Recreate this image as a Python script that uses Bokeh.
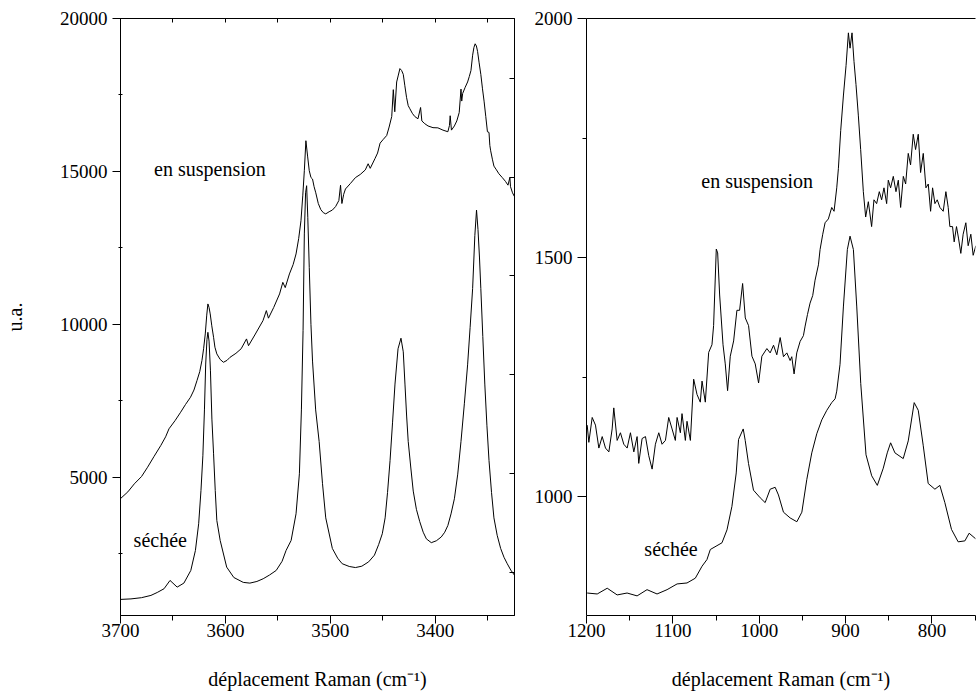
from bokeh.plotting import figure
from bokeh.models import Range1d, FixedTicker, LinearAxis, Label
from bokeh.layouts import row
from bokeh.embed import file_html
from bokeh.resources import INLINE

FONT = "'Liberation Serif', 'Times New Roman', Times, serif"

# ---------------- Left panel : O-H stretching region ----------------
oh_sechee_x = [3700, 3690, 3680, 3671, 3665, 3658.5, 3652.8, 3646, 3639.6, 3633, 3628.6, 3625.5,
               3623.3, 3621.5, 3620, 3618.8, 3617.6, 3616.7, 3615.6, 3614.3, 3612.9, 3611.3, 3609.7,
               3608.2, 3605, 3598.8, 3592, 3583, 3576.7, 3570, 3564, 3558, 3551.6, 3546, 3542.2,
               3537.4, 3532.7, 3529.5, 3527.6, 3526, 3524.8, 3523.6, 3522.6, 3521.5, 3520.1, 3518.5,
               3517, 3514, 3510.7, 3507.5, 3504.4, 3498.1, 3493, 3488.7, 3482, 3476.1, 3470, 3463.5,
               3458, 3454, 3450.5, 3447.8, 3445.5, 3443.1, 3440.7, 3438.4, 3435.5, 3432.7, 3430.5,
               3428.9, 3427.3, 3425.8, 3423.3, 3421, 3418, 3414.8, 3411.5, 3408.5, 3403.8, 3399,
               3394.3, 3391, 3388, 3385, 3381.8, 3378.6, 3375.5, 3372.3, 3369.2, 3366.8, 3364.4,
               3362.3, 3360.7, 3359.3, 3357.9, 3356.6, 3354.7, 3352.8, 3350.8, 3348.8, 3346.4, 3344.1,
               3341, 3337.7, 3334.5, 3331.4, 3328, 3324.5]
oh_sechee_y = [1003, 1020, 1060, 1134, 1230, 1352, 1624, 1405, 1536, 1950, 2604, 3477,
               4565, 5700, 7200, 8700, 9500, 9738, 9450, 8500, 6900, 5764, 4565,
               3585, 2931, 2059, 1720, 1560, 1536, 1590, 1679, 1800, 1951, 2250, 2604,
               2931, 3803, 5111, 7200, 9800, 12955, 14300, 14532, 13500, 11862, 10000,
               8797, 7200, 6170, 4800, 3670, 2670, 2350, 2170, 2080, 2045, 2090, 2232,
               2450, 2794, 3150, 3670, 4500, 5545, 6800, 8045, 9200, 9545, 9100,
               8045, 7000, 6170, 5300, 4545, 3950, 3545, 3200, 2983, 2859, 2920,
               3045, 3200, 3421, 3800, 4294, 5100, 6170, 7400, 8673, 9900, 11173,
               12900, 13735, 13100, 12200, 11173, 9600, 8045, 6700, 5545, 4500, 3670,
               3100, 2670, 2380, 2170, 1960, 1794]

oh_susp_x = [3700, 3693, 3686.8, 3680, 3674.2, 3668, 3661.6, 3657, 3653.8, 3648, 3642.7, 3638,
             3633.3, 3630, 3627.1, 3624.5, 3622.4, 3620.8, 3619.2, 3617.8, 3616.7, 3615.6, 3614.5,
             3613, 3611.3, 3610, 3608.2, 3605, 3601.9, 3598.5, 3595.6, 3590, 3585, 3579.9, 3578,
             3572, 3564.2, 3561, 3559, 3554, 3548.4, 3545.3, 3543, 3539, 3535.5, 3532.7, 3530.2,
             3528, 3526.3, 3524.8, 3523.3, 3521.7, 3520.1, 3518.5, 3517, 3515.5, 3513.9, 3511.5,
             3509.1, 3506.7, 3504.4, 3501.2, 3498.1, 3495, 3491.9, 3490.3, 3489, 3487.3, 3485.6,
             3481, 3476.1, 3471.5, 3466.7, 3464, 3462, 3457.4, 3455, 3452.6, 3449.5, 3446.3, 3444,
             3441.5, 3440, 3438.6, 3436.8, 3435.2, 3433.7, 3432.1, 3430.5, 3429, 3427.4, 3425.8,
             3424.2, 3421.9, 3419.6, 3416.5, 3414, 3412.8, 3410, 3406.9, 3402.2, 3397.5, 3392.7,
             3388, 3386.5, 3385.8, 3384.6, 3381.8, 3379.5, 3377.2, 3375.5, 3374.8, 3373.9, 3371.5,
             3369.2, 3367.6, 3366, 3364.4, 3363.2, 3362, 3360.8, 3359.7, 3358.2, 3356.6, 3355,
             3353.5, 3351.9, 3350.3, 3348.8, 3348, 3347.2, 3345.6, 3344.1, 3341.7, 3339.4, 3336.2,
             3333.1, 3330.7, 3328.9, 3328.3, 3326.4, 3324.5]
oh_susp_y = [4300, 4520, 4783, 5020, 5326, 5680, 6036, 6320, 6582, 6850, 7124, 7380,
             7614, 7850, 8160, 8450, 8813, 9200, 9685, 10300, 10666, 10550, 10340,
             9950, 9575, 9250, 9032, 8850, 8758, 8820, 8921, 9050, 9200, 9522, 9300,
             9650, 10120, 10447, 10200, 10550, 10993, 11372, 11200, 11647, 11950, 12300, 12800,
             13389, 14200, 15023, 16003, 15500, 15023, 14800, 14750, 14500, 14300, 13950,
             13750, 13650, 13611, 13680, 13735, 13850, 14048, 14548, 13950, 14250, 14425,
             14600, 14797, 14900, 15048, 15250, 15100, 15424, 15600, 15924, 16050, 16173, 16450,
             16797, 17673, 16950, 17924, 18150, 18362, 18300, 18173, 17800, 17424, 17150,
             17048, 16900, 16797, 16720, 17090, 16650, 16560, 16486, 16430, 16424, 16350,
             16297, 16500, 16820, 16350, 16486, 16650, 16924, 17691, 17300, 17548, 17750,
             17924, 18100, 18300, 18800, 19050, 19173, 19100, 18924, 18550, 18173, 17700,
             17298, 16800, 16297, 16275, 15850, 15673, 15400, 15173, 15050, 14924, 14800,
             14673, 14550, 14800, 14500, 14300, 14173]

# ---------------- Right panel : low-wavenumber region ----------------
lw_sechee_x = [1199.2, 1187.6, 1176, 1164.5, 1153, 1141.4, 1129.9, 1118.3, 1106.7, 1095.1, 1083.6,
               1074, 1066.2, 1060.5, 1056.6, 1048.9, 1043.1, 1037.3, 1031.6, 1026.6, 1023.9, 1018.5,
               1016.2, 1012.4, 1006.6, 998.8, 993.1, 987.3, 981.5, 977.7, 971.9, 964.2, 956.4, 950.6,
               944.9, 939.1, 933.3, 927.5, 921.7, 916, 912.1, 910.2, 906.4, 902.5, 897.9, 894.8,
               890.9, 887, 882.4, 876.3, 869.7, 863.2, 856.3, 851.7, 847.8, 842.8, 833.2, 827.4,
               820.5, 815.8, 810.1, 804.3, 796.5, 790.8, 785, 777.3, 769.6, 761.8, 756.9, 749.1]
lw_sechee_y = [799, 797, 809, 795, 799, 793, 806, 797, 806, 818, 820,
               830, 855, 869, 890, 898, 904, 931, 980, 1050, 1120, 1142,
               1118, 1070, 1014, 998, 988, 1016, 1020, 1004, 968, 956, 948, 968,
               1036, 1092, 1132, 1161, 1181, 1197, 1205, 1221, 1277, 1397, 1517, 1545,
               1517, 1397, 1237, 1088, 1044, 1024, 1060, 1092, 1113, 1092, 1080, 1117,
               1197, 1181, 1108, 1028, 1016, 1024, 988, 932, 906, 908, 924, 912]

lw_susp_x = [1199.2, 1197.3, 1193.4, 1189.6, 1185.7, 1181.8, 1178, 1174.1, 1170.3, 1168.4, 1164.5,
             1160.7, 1156.8, 1152.9, 1149.1, 1145.2, 1141.4, 1139.5, 1135.6, 1131.7, 1127.9, 1124,
             1120.2, 1116.3, 1112.5, 1108.6, 1104.8, 1100.9, 1097.1, 1095.1, 1091.3, 1089.4, 1085.5,
             1083.6, 1079.7, 1075.9, 1072, 1068.2, 1066.2, 1062.4, 1058.5, 1054.7, 1052.8, 1049.7,
             1048.1, 1045.8, 1041.9, 1039.3, 1036.6, 1033.5, 1029.6, 1025.8, 1022.7, 1019.2, 1016.1,
             1012.3, 1008.4, 1004.6, 1000.7, 996.9, 991.1,
             987.3, 983.4, 979.6, 975.7, 971.9, 968, 964.2, 962.3, 959.6, 956.5, 952.6, 948.8,
             946.8, 944.1, 941.1, 938, 935.3, 931.4, 929.5, 926.4, 923.7, 919.9, 916, 913.3, 910.2,
             908.3, 905.6, 902.5, 899.4, 896.7, 894.8, 892.5, 890.2, 887.9, 885.2, 882.5, 879.4,
             876.7, 873.6, 869.8, 867.1, 864, 860.9, 858.2, 855.5, 852.4, 850.5, 847.8, 844.7,
             841.6, 838.9, 836.2, 833.1, 830.4, 827.4, 824.7, 821.6, 818.9, 815.8, 813.1, 810,
             806.9, 804.2, 801.5, 799.2, 796.5, 793.8, 790.7, 786.9, 783.8, 781.1, 779.2, 776.1,
             774.2, 771.5, 769.2, 766.5, 763.8, 760.7, 758, 754.9, 752.2, 749.1]
lw_susp_y = [1150, 1114, 1166, 1150, 1102, 1126, 1102, 1094, 1142, 1186, 1118,
             1134, 1110, 1102, 1134, 1094, 1126, 1070, 1122, 1126, 1086, 1058,
             1110, 1134, 1110, 1118, 1166, 1142, 1118, 1166, 1134, 1174, 1118,
             1158, 1118, 1246, 1214, 1198, 1242, 1198, 1302, 1318, 1358, 1518,
             1510, 1422, 1318, 1278, 1222, 1294, 1326, 1390, 1390, 1446, 1374,
             1358, 1294, 1278, 1238, 1294, 1310,
             1301, 1317, 1297, 1333, 1293, 1301, 1285, 1293, 1257, 1301, 1325, 1337,
             1357, 1381, 1405, 1421, 1453, 1485, 1517, 1549, 1573, 1581, 1605, 1597, 1646,
             1686, 1766, 1838, 1902, 1970, 1938, 1970, 1910, 1862, 1798, 1726, 1638,
             1585, 1617, 1565, 1621, 1613, 1638, 1621, 1646, 1613, 1662, 1646, 1670,
             1638, 1662, 1605, 1670, 1654, 1718, 1694, 1758, 1726, 1758, 1678, 1718,
             1646, 1654, 1597, 1646, 1613, 1621, 1605, 1597, 1638, 1605, 1565, 1565,
             1533, 1565, 1541, 1509, 1549, 1573, 1525, 1549, 1505, 1525]

# ---------------- ticks ----------------
left_x_ticks = [3400, 3500, 3600, 3700]
left_x_minor = [3350, 3450, 3550, 3650]
left_top_ticks = [3350, 3400, 3450, 3500, 3550, 3600, 3650, 3700]
left_y_ticks = [5000, 10000, 15000, 20000]
left_y_minor = [2500, 7500, 12500, 17500]
left_right_ticks = [1885, 5120, 8356, 11591, 14794, 18039]
right_x_ticks = [800, 900, 1000, 1100, 1200]
right_x_minor = [750, 850, 950, 1050, 1150]
right_y_ticks = [1000, 1500, 2000]
right_y_minor = [750, 1250, 1750]

XLABEL = "déplacement Raman (cm\u207b\u00b9)"
H = 692


def style_axis(ax, ticks, minor, maj_out, min_out, min_in=0, standoff=4):
    ax.ticker = FixedTicker(ticks=ticks, minor_ticks=minor)
    ax.major_tick_out = maj_out
    ax.major_tick_in = 0
    ax.minor_tick_out = min_out
    ax.minor_tick_in = min_in
    ax.axis_line_color = "black"
    ax.major_tick_line_color = "black"
    ax.minor_tick_line_color = "black"
    ax.major_label_text_font = FONT
    ax.major_label_text_font_size = "19px"
    ax.major_label_text_color = "black"
    ax.major_label_standoff = standoff
    ax.axis_label_text_font = FONT
    ax.axis_label_text_font_size = "20px"
    ax.axis_label_text_font_style = "normal"
    ax.axis_label_text_color = "black"


def tick_only_axis(minor, tick_in):
    a = LinearAxis(ticker=FixedTicker(ticks=[], minor_ticks=minor))
    a.major_tick_out = 0
    a.major_tick_in = 0
    a.minor_tick_out = 0
    a.minor_tick_in = tick_in
    a.major_label_text_font_size = "0px"
    a.major_label_standoff = 0
    a.axis_line_color = "black"
    a.minor_tick_line_color = "black"
    return a


def label(p, x, y, text):
    p.add_layout(Label(x=x, y=y, text=text, text_font=FONT, text_font_size="20px",
                       text_align="left", text_baseline="middle", text_color="black"))


# ---------------- left figure ----------------
p1 = figure(width=524, height=H, x_range=Range1d(3700, 3324.5), y_range=Range1d(477, 20000),
            output_backend="svg", toolbar_location=None,
            min_border_left=116, min_border_right=10, min_border_top=18,
            min_border_bottom=H - 18 - 597)
p1.grid.visible = False
p1.outline_line_color = "black"
p1.background_fill_color = "white"
p1.border_fill_color = "white"
style_axis(p1.xaxis[0], left_x_ticks, left_x_minor, 8, 5, standoff=0)
style_axis(p1.yaxis[0], left_y_ticks, left_y_minor, 8, 2, min_in=2, standoff=5)
p1.xaxis[0].axis_label = XLABEL
p1.xaxis[0].axis_label_standoff = 28
p1.yaxis[0].axis_label = "u.a."
p1.yaxis[0].axis_label_standoff = 31
p1.add_layout(tick_only_axis(left_top_ticks, 4), "above")
p1.add_layout(tick_only_axis(left_right_ticks, 5), "right")
p1.line(oh_susp_x, oh_susp_y, line_color="black", line_width=1)
p1.line(oh_sechee_x, oh_sechee_y, line_color="black", line_width=1)
label(p1, 3668, 15094, "en suspension")
label(p1, 3687.5, 2962, "séchée")

# ---------------- right figure ----------------
p2 = figure(width=452, height=H, x_range=Range1d(1200, 749.5), y_range=Range1d(752, 2000),
            output_backend="svg", toolbar_location=None,
            min_border_left=62, min_border_right=1, min_border_top=18,
            min_border_bottom=H - 18 - 597)
p2.grid.visible = False
p2.outline_line_color = None
p2.background_fill_color = "white"
p2.border_fill_color = "white"
style_axis(p2.xaxis[0], right_x_ticks, right_x_minor, 8, 5, standoff=0)
style_axis(p2.yaxis[0], right_y_ticks, right_y_minor, 9, 4, standoff=5)
p2.xaxis[0].axis_label = XLABEL
p2.xaxis[0].axis_label_standoff = 28
p2.add_layout(tick_only_axis([], 0), "above")
p2.line(lw_susp_x, lw_susp_y, line_color="black", line_width=1)
p2.line(lw_sechee_x, lw_sechee_y, line_color="black", line_width=1)
label(p2, 1067, 1661, "en suspension")
label(p2, 1133, 890, "séchée")

layout = row(p1, p2)
open("out.html", "w").write(file_html(layout, INLINE))
